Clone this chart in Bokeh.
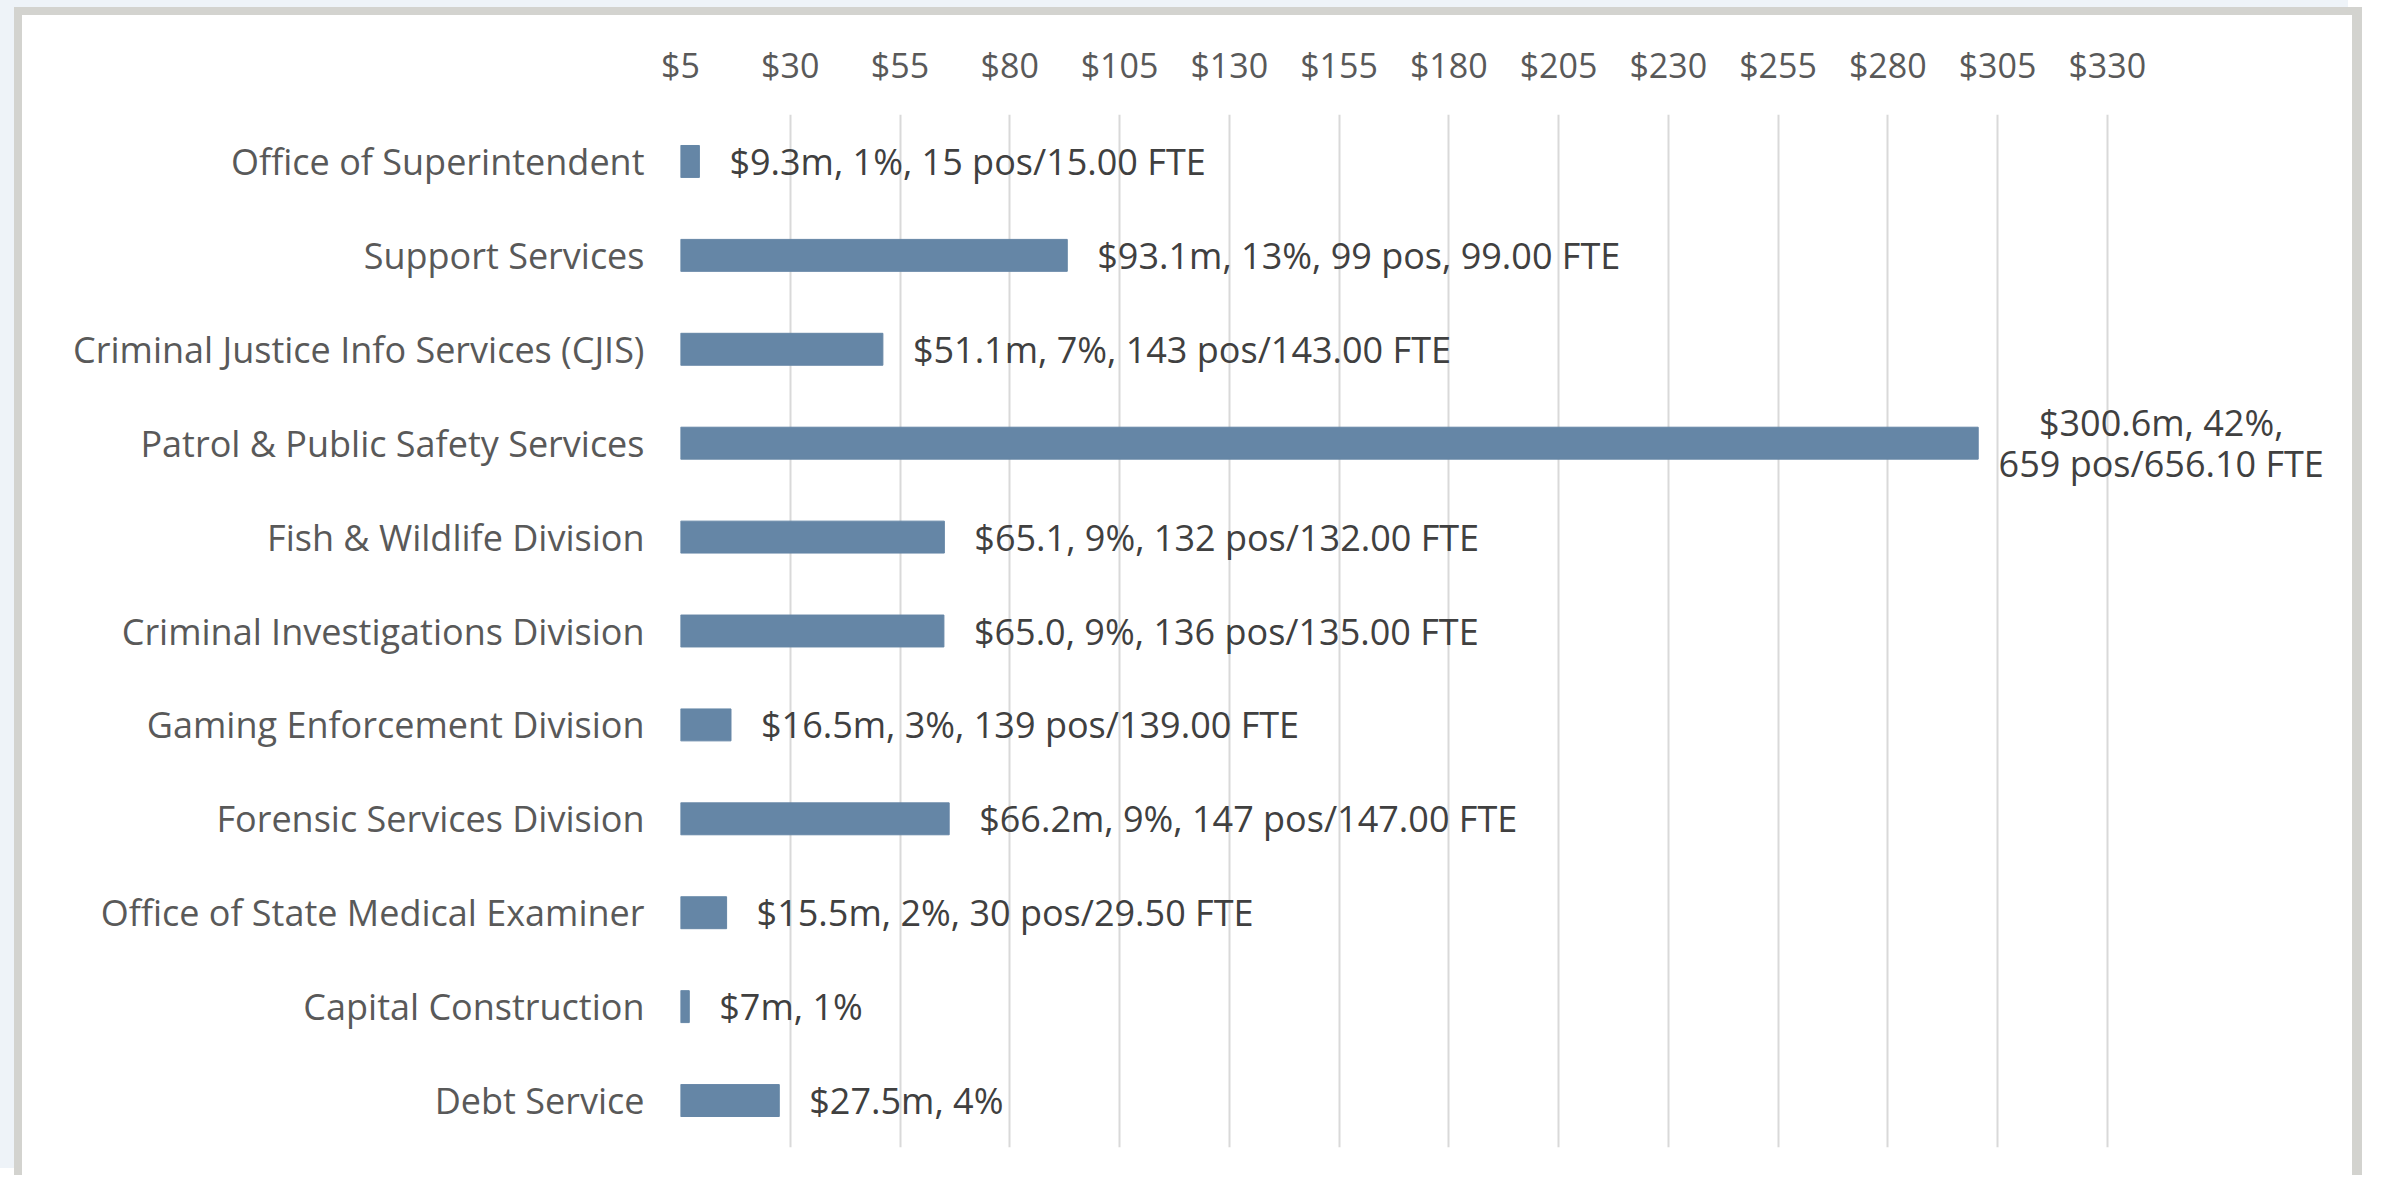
from bokeh.plotting import figure
from bokeh.models import ColumnDataSource, FactorRange, Range1d, FixedTicker
from bokeh.core.properties import value
from bokeh.embed import file_html
from bokeh.resources import INLINE

categories = [
    "Office of Superintendent",
    "Support Services",
    "Criminal Justice Info Services (CJIS)",
    "Patrol & Public Safety Services",
    "Fish & Wildlife Division",
    "Criminal Investigations Division",
    "Gaming Enforcement Division",
    "Forensic Services Division",
    "Office of State Medical Examiner",
    "Capital Construction",
    "Debt Service",
]
values = [9.3, 93.1, 51.1, 300.6, 65.1, 65.0, 16.5, 66.2, 15.5, 7.0, 27.5]
bar_labels = [
    "$9.3m, 1%, 15 pos/15.00 FTE",
    "$93.1m, 13%, 99 pos, 99.00 FTE",
    "$51.1m, 7%, 143 pos/143.00 FTE",
    "$300.6m, 42%,\n659 pos/656.10 FTE",
    "$65.1, 9%, 132 pos/132.00 FTE",
    "$65.0, 9%, 136 pos/135.00 FTE",
    "$16.5m, 3%, 139 pos/139.00 FTE",
    "$66.2m, 9%, 147 pos/147.00 FTE",
    "$15.5m, 2%, 30 pos/29.50 FTE",
    "$7m, 1%",
    "$27.5m, 4%",
]
tick_values = [5, 30, 55, 80, 105, 130, 155, 180, 205, 230, 255, 280, 305, 330]
tick_labels = ["$5", "$30", "$55", "$80", "$105", "$130", "$155", "$180",
               "$205", "$230", "$255", "$280", "$305", "$330"]
axis_min = 5

FONT = "Open Sans"
BAR = "#6586A6"

long_idx = [i for i, t in enumerate(bar_labels) if "\n" in t]
short_idx = [i for i in range(len(categories)) if i not in long_idx]

src = ColumnDataSource(dict(cat=categories, val=values, base=[axis_min] * len(values)))
src_short = ColumnDataSource(dict(cat=[categories[i] for i in short_idx],
                                  val=[values[i] for i in short_idx],
                                  txt=[bar_labels[i] for i in short_idx]))
src_long = ColumnDataSource(dict(cat=[categories[i] for i in long_idx],
                                 val=[values[i] for i in long_idx],
                                 txt=[bar_labels[i] for i in long_idx]))

p = figure(
    width=2348, height=1168,
    y_range=FactorRange(factors=categories[::-1], range_padding=0),
    x_range=Range1d(axis_min, 385.4),
    x_axis_location="above",
    output_backend="svg", toolbar_location=None,
    min_border_left=658, min_border_right=20, min_border_top=99, min_border_bottom=36,
)
p.styles = {"margin-left": "14px", "margin-top": "7px",
            "border-left": "8px solid #D3D3CF",
            "border-top": "8px solid #D3D3CF", "border-right": "10px solid #D3D3CF",
            "box-shadow": "-14px -7px 0 0 #EEF3F8"}
p.outline_line_color = None
p.background_fill_color = "white"
p.border_fill_color = "white"

p.hbar(y="cat", left="base", right="val", height=0.34, source=src,
       fill_color=BAR, line_color=BAR)

p.text(x="val", y="cat", text="txt", source=src_short, x_offset=30,
       text_align="left", text_baseline="middle", text_font=value(FONT),
       text_font_size="36px", text_color="#404040")
p.text(x="val", y="cat", text="txt", source=src_long, x_offset=183,
       text_align="center", text_baseline="middle", text_font=value(FONT),
       text_font_size="36px", text_color="#404040", text_line_height=0.83)

xa = p.xaxis[0]
xa.ticker = FixedTicker(ticks=tick_values)
xa.major_label_overrides = {v: l for v, l in zip(tick_values, tick_labels)}
xa.axis_line_color = None
xa.major_tick_line_color = None
xa.minor_tick_line_color = None
xa.major_tick_out = 0
xa.major_label_standoff = 27
xa.major_label_text_font = FONT
xa.major_label_text_font_size = "34px"
xa.major_label_text_color = "#595959"

ya = p.yaxis[0]
ya.axis_line_color = None
ya.major_tick_line_color = None
ya.major_tick_out = 0
ya.major_label_standoff = 36
ya.major_label_text_font = FONT
ya.major_label_text_font_size = "36px"
ya.major_label_text_color = "#595959"

p.xgrid.ticker = FixedTicker(ticks=tick_values)
p.xgrid.grid_line_color = "#D9D9D9"
p.xgrid.grid_line_width = 2
p.ygrid.grid_line_color = None

open("out.html", "w").write(file_html(p, INLINE))
